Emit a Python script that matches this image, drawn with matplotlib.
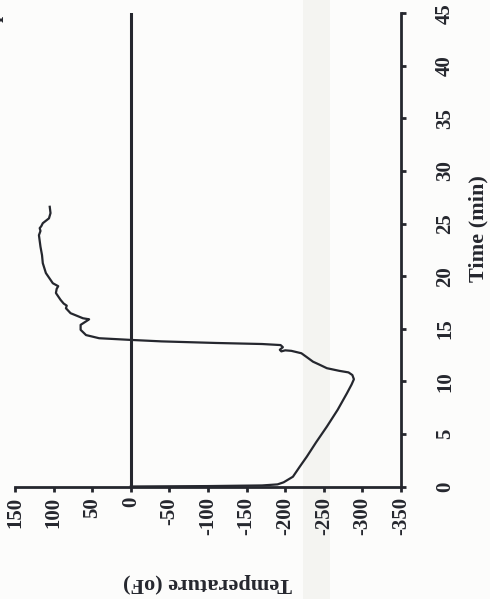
import matplotlib.pyplot as plt
from matplotlib.patches import Rectangle

# thermocouple trace, listed in drawing order (time in min, temperature in deg F)
time_min = [0.0, 0.04, 0.1, 0.2, 0.4, 0.93, 1.9, 2.84, 4.2, 5.7, 7.3, 8.87,
            9.7, 10.2, 10.6, 10.85, 11.0, 11.25, 11.6, 11.87, 12.3, 12.67,
            12.9, 12.95, 12.85, 13.0, 13.25, 13.45, 13.55, 13.65, 13.8, 13.94,
            14.1, 14.4, 14.9, 15.37, 15.75, 15.9, 16.0, 16.48, 16.95, 17.2,
            17.4, 17.75, 18.4, 18.8, 19.05, 19.33, 20.3, 21.24, 22.0, 22.8,
            23.9, 24.3, 24.57, 24.75, 25.04, 25.5, 26.0, 26.6]
temp_f = [0, -100, -170, -190, -198, -210, -219, -228, -240, -254, -268, -280,
          -286, -289, -287, -282, -270, -254, -244, -236, -228, -221,
          -208, -200, -195, -193, -197, -194, -170, -110, -40, 0,
          41, 58, 65, 65, 57, 54, 62, 78, 84, 83,
          87, 91, 97, 96, 94, 101, 110, 114, 115, 117,
          119, 117, 118, 116, 114, 106, 104, 105]

temp_ticks = [150, 100, 50, 0, -50, -100, -150, -200, -250, -300, -350]
time_ticks = [0, 5, 10, 15, 20, 25, 30, 35, 40, 45]

ink = '#25272e'
serif = ['Liberation Serif', 'DejaVu Serif']

fig = plt.figure(figsize=(4.9, 5.99), dpi=100)
fig.patch.set_facecolor('#fcfcfb')

# faint fold shading on the page, kept behind the axes
fig.patches.append(Rectangle((303 / 490, 0), 27 / 490, 1, transform=fig.transFigure,
                             facecolor='#f4f4f1', edgecolor='none', zorder=-5))

ax = fig.add_axes([15 / 490, 112.5 / 599, 386 / 490, 473.2 / 599])
ax.set_facecolor('none')
ax.set_zorder(2)

ax.plot(temp_f, time_min, color=ink, lw=1.6, solid_joinstyle='round')
ax.axvline(0, color=ink, lw=2.2)

ax.set_xlim(150, -350)
ax.set_ylim(0, 45)

for side in ['top', 'left']:
    ax.spines[side].set_visible(False)
for side in ['bottom', 'right']:
    ax.spines[side].set_linewidth(2)
    ax.spines[side].set_color(ink)

ax.yaxis.tick_right()
ax.set_xticks(temp_ticks)
ax.set_xticklabels([str(t) for t in temp_ticks], rotation=90, fontsize=15,
                   fontweight='bold', family=serif, color=ink)
ax.set_yticks(time_ticks)
ax.set_yticklabels([str(t) for t in time_ticks], rotation=90, fontsize=15,
                   fontweight='bold', family=serif, color=ink, va='center')
ax.tick_params(axis='x', direction='out', length=3.6, width=2, color=ink, pad=4)
ax.tick_params(axis='y', direction='out', length=3.6, width=2, color=ink, pad=21)

ax.text(0.5, -0.204, 'Temperature (oF)', transform=ax.transAxes, rotation=180,
        ha='center', va='center', fontsize=16, fontweight='bold', family=serif, color=ink)
ax.text(1.2, 0.545, 'Time (min)', transform=ax.transAxes, rotation=90,
        ha='center', va='center', fontsize=16, fontweight='bold', family=serif, color=ink)

# chart title, running off the left edge of the page
fig.text(-1 / 490, 1 - 125 / 599, 'Thermocouple T1', rotation=90, rotation_mode='anchor',
         ha='left', va='baseline', fontsize=15, fontweight='bold', family=serif, color=ink)

fig.savefig('out.png', dpi=100, facecolor=fig.get_facecolor())
